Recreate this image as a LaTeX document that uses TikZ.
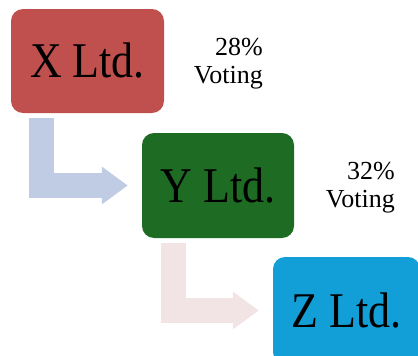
\documentclass[tikz,border=0pt]{standalone}
\usepackage{fontspec}
\setmainfont[FakeStretch=0.88]{Liberation Serif}
\newfontfamily\votefont{Liberation Serif}
\usetikzlibrary{arrows.meta}
\definecolor{xred}{HTML}{C0504D}
\definecolor{ygreen}{HTML}{1E6B24}
\definecolor{zblue}{HTML}{129FD7}
\definecolor{arblue}{HTML}{C0CCE3}
\definecolor{arpink}{HTML}{F2E4E4}
\tikzset{
  company/.style={rounded corners=12pt, minimum width=#1, inner sep=0pt,
    font=\fontsize{50}{56}\selectfont, text=black},
  elbow/.style={draw=#1, line width=25pt, line join=miter, line cap=butt,
    -{Triangle[length=26pt,width=36pt,fill=#1,color=#1]}},
  vote/.style={align=right, font=\votefont\fontsize{26}{28}\selectfont, inner sep=0pt, anchor=north east}
}
\begin{document}
\begin{tikzpicture}[x=1pt,y=-1pt]
\clip (0,0) rectangle (418,356);
\fill[white] (0,0) rectangle (418,356);
\node[company=153pt, minimum height=104pt, fill=xred] (X) at (87.5,61) {X Ltd.};
\node[company=152pt, minimum height=105pt, fill=ygreen] (Y) at (218,185.5) {Y Ltd.};
\node[company=147pt, minimum height=107pt, fill=zblue] (Z) at (346.5,310.5) {Z Ltd.};
\node[vote] (v1) at (263,38) {28\%\\Voting};
\node[vote] (v2) at (395,162) {32\%\\Voting};
\draw[elbow=arblue, shorten <=5pt, shorten >=14pt] ([xshift=-46pt]X.south) |- (Y.west);
\draw[elbow=arpink, shorten <=5pt, shorten >=14pt] ([xshift=-44.5pt]Y.south) |- (Z.west);
\end{tikzpicture}
\end{document}
